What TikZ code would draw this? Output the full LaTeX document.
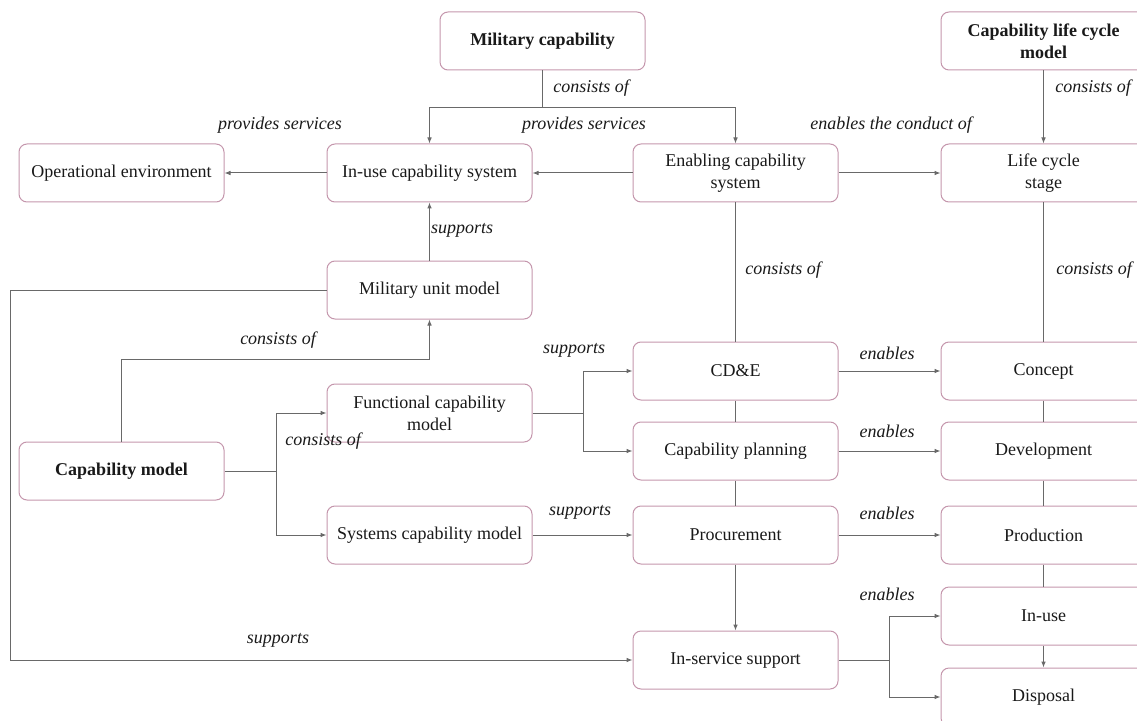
\documentclass[tikz,border=0pt]{standalone}
\usepackage{fontspec}
\setmainfont{Liberation Serif}
\usetikzlibrary{arrows.meta}
\definecolor{boxline}{RGB}{196,150,172}
\definecolor{wirecol}{RGB}{105,105,105}
\definecolor{inkcol}{RGB}{25,25,25}
\tikzset{
  box/.style={draw=boxline, line width=0.75pt, rounded corners=6pt,
    minimum width=153.75pt, minimum height=43.5pt, inner sep=0pt,
    align=center, text=inkcol, font=\fontsize{13.5}{16.5}\selectfont},
  tbox/.style={box, font=\fontsize{13.5}{16.5}\selectfont\bfseries},
  wire/.style={draw=wirecol, line width=0.75pt},
  arr/.style={wire, -{Latex[length=4.5pt,width=3.5pt]}},
  lab/.style={inner sep=0pt, text=inkcol, font=\fontsize{13.5}{16.5}\selectfont\itshape}
}
\begin{document}
\begin{tikzpicture}[x=0.75pt, y=-0.75pt]
\useasboundingbox (0,0) rectangle (1137,720);
\clip (0,0) rectangle (1137,720);

% boxes
\node[tbox] (mil) at (542.5,41) {Military capability};
\node[tbox] (clm) at (1043.5,41) {Capability life cycle\\model};
\node[box] (ope) at (121.5,173) {Operational environment};
\node[box] (inu) at (429.5,173) {In-use capability system};
\node[box] (ena) at (735.5,173) {Enabling capability\\system};
\node[box] (lcs) at (1043.5,173) {Life cycle\\stage};
\node[box] (mum) at (429.5,290) {Military unit model};
\node[box] (cde) at (735.5,371) {CD\&E};
\node[box] (con) at (1043.5,371) {Concept};
\node[box] (fcm) at (429.5,413) {Functional capability\\model};
\node[box] (cpl) at (735.5,451) {Capability planning};
\node[box] (dev) at (1043.5,451) {Development};
\node[tbox] (cmo) at (121.5,471) {Capability model};
\node[box] (scm) at (429.5,535) {Systems capability model};
\node[box] (pro) at (735.5,535) {Procurement};
\node[box] (prd) at (1043.5,535) {Production};
\node[box] (use) at (1043.5,616) {In-use};
\node[box] (iss) at (735.5,660) {In-service support};
\node[box] (dis) at (1043.5,697) {Disposal};

% top level decomposition
\draw[wire] (mil.south) -- ++(0,37) coordinate (milj);
\draw[arr] (milj) -| (inu.north);
\draw[arr] (milj) -| (ena.north);
\node[lab, anchor=west] (l1) at (553,88) {consists of};

\draw[arr] (clm.south) -- (lcs.north);
\node[lab, anchor=west] (l2) at (1055,88) {consists of};

\draw[arr] (ena.west) -- (inu.east);
\node[lab] (l3) at (584,125) {provides services};
\draw[arr] (inu.west) -- (ope.east);
\node[lab] (l4) at (280,125) {provides services};
\draw[arr] (ena.east) -- (lcs.west);
\node[lab] (l5) at (891,125) {enables the conduct of};

\draw[wire] (ena.south) -- (cde.north);
\node[lab, anchor=west] (l6) at (745,270) {consists of};
\draw[wire] (lcs.south) -- (con.north);
\node[lab, anchor=west] (l7) at (1056,270) {consists of};

\draw[arr] (mum.north) -- (inu.south);
\node[lab] (l8) at (462,230) {supports};

% military unit model supports in-service support
\coordinate (lft) at (10,660);
\draw[arr] (mum.west) -| (lft) -- (iss.west);
\node[lab] (l9) at (278,640) {supports};

% capability model decomposition
\draw[arr] (cmo.north) -- ++(0,-82) -| (mum.south);
\node[lab] (l10) at (278,340) {consists of};
\draw[wire] (cmo.east) -- ++(52,0) coordinate (cmj);
\draw[arr] (cmj) |- (fcm.west);
\draw[arr] (cmj) |- (scm.west);
\node[lab, anchor=west] (l11) at (285,441) {consists of};

% models support enabling activities
\draw[wire] (fcm.east) -- ++(51,0) coordinate (fcj);
\draw[arr] (fcj) |- (cde.west);
\draw[arr] (fcj) |- (cpl.west);
\node[lab] (l12) at (574,350) {supports};
\draw[arr] (scm.east) -- (pro.west);
\node[lab] (l13) at (580,512) {supports};

% enabling system chain
\draw[wire] (cde.south) -- (cpl.north);
\draw[wire] (cpl.south) -- (pro.north);
\draw[arr] (pro.south) -- (iss.north);

% life cycle chain
\draw[wire] (con.south) -- (dev.north);
\draw[wire] (dev.south) -- (prd.north);
\draw[wire] (prd.south) -- (use.north);
\draw[arr] (use.south) -- (dis.north);

% enables
\draw[arr] (cde.east) -- (con.west);
\node[lab] (l14) at (887,353) {enables};
\draw[arr] (cpl.east) -- (dev.west);
\node[lab] (l15) at (887,431) {enables};
\draw[arr] (pro.east) -- (prd.west);
\node[lab] (l16) at (887,513) {enables};
\draw[wire] (iss.east) -- ++(51,0) coordinate (isj);
\draw[arr] (isj) |- (use.west);
\draw[arr] (isj) |- (dis.west);
\node[lab] (l17) at (887,594) {enables};
\end{tikzpicture}
\end{document}
